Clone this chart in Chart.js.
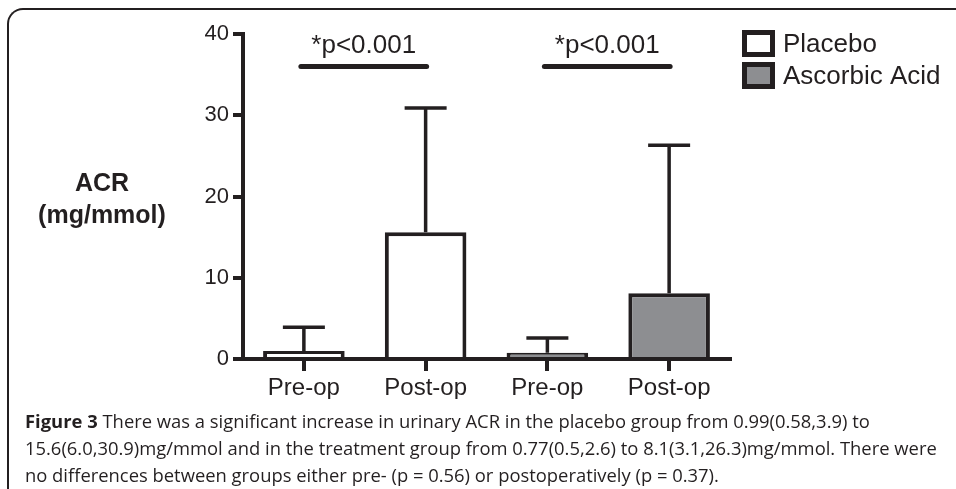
<!DOCTYPE html>
<html lang="en">
<head>
  <meta charset="UTF-8">
  <title>Figure 3 - urinary ACR</title>
  <script src="https://cdn.jsdelivr.net/npm/chart.js@4.4.0/dist/chart.umd.min.js"></script>
  <style>
    html, body { margin: 0; padding: 0; background: #fff; }
    #wrap { position: relative; width: 956px; height: 489px; overflow: hidden; }
    #frame {
      position: absolute; left: 7px; top: 8px; width: 980px; height: 520px;
      border-left: 2px solid #231f20; border-top: 2px solid #231f20;
      border-top-left-radius: 16px;
    }
    #chart-box { position: absolute; left: 0; top: 0; width: 956px; height: 489px; }
    #caption {
      position: absolute; left: 25px; top: 407px;
      font-family: "Open Sans", sans-serif; font-size: 18.4px; line-height: 27px;
      color: #231f20; white-space: nowrap;
    }
    #caption b { font-weight: 700; }
  </style>
</head>
<body>
  <div id="wrap">
    <div id="frame"></div>
    <div id="chart-box"><canvas id="chart"></canvas></div>
    <div id="caption">
      <div><b>Figure 3</b> There was a significant increase in urinary ACR in the placebo group from 0.99(0.58,3.9) to</div>
      <div>15.6(6.0,30.9)mg/mmol and in the treatment group from 0.77(0.5,2.6) to 8.1(3.1,26.3)mg/mmol. There were</div>
      <div>no differences between groups either pre- (p = 0.56) or postoperatively (p = 0.37).</div>
    </div>
  </div>
  <script>
    // data (median and upper whisker)
    const categories = ['Pre-op', 'Post-op', 'Pre-op', 'Post-op'];
    const placeboMedian = [0.99, 15.6, null, null];
    const ascorbicMedian = [null, null, 0.77, 8.1];
    const placeboUpper = [3.9, 30.9, null, null];
    const ascorbicUpper = [null, null, 2.6, 26.3];
    const yTicks = [0, 10, 20, 30, 40];
    const sigPairs = [[0, 1], [2, 3]];
    const sigLevel = 36;
    const sigLabel = '*p<0.001';
    const yTitle = ['ACR', '(mg/mmol)'];

    const ink = '#231f20';
    const font = '"Liberation Sans", Arial, sans-serif';

    const errorBars = {
      id: 'errorBars',
      afterDatasetsDraw(chart) {
        const ctx = chart.ctx;
        const y = chart.scales.y;
        ctx.save();
        ctx.strokeStyle = ink;
        ctx.lineWidth = 3.5;
        chart.data.datasets.forEach((ds, di) => {
          const meta = chart.getDatasetMeta(di);
          ds.upper.forEach((u, i) => {
            if (u == null) return;
            const bar = meta.data[i];
            const top = y.getPixelForValue(u);
            ctx.beginPath();
            ctx.moveTo(bar.x, bar.y);
            ctx.lineTo(bar.x, top);
            ctx.moveTo(bar.x - 21, top);
            ctx.lineTo(bar.x + 21, top);
            ctx.stroke();
          });
        });
        ctx.restore();
      }
    };

    const extras = {
      id: 'extras',
      afterDraw(chart) {
        const ctx = chart.ctx;
        const x = chart.scales.x;
        const y = chart.scales.y;
        ctx.save();
        ctx.fillStyle = ink;
        ctx.strokeStyle = ink;

        // significance brackets
        sigPairs.forEach(([a, b]) => {
          const x1 = x.getPixelForValue(a) - 3;
          const x2 = x.getPixelForValue(b) + 1;
          const yy = y.getPixelForValue(sigLevel);
          ctx.lineWidth = 5;
          ctx.lineCap = 'round';
          ctx.beginPath();
          ctx.moveTo(x1, yy);
          ctx.lineTo(x2, yy);
          ctx.stroke();
          ctx.font = '26px ' + font;
          ctx.textAlign = 'center';
          ctx.textBaseline = 'alphabetic';
          ctx.fillText(sigLabel, (x1 + x2) / 2, yy - 14);
        });

        // horizontal y title
        ctx.font = 'bold 25px ' + font;
        ctx.textAlign = 'center';
        ctx.textBaseline = 'middle';
        ctx.fillText(yTitle[0], 102, 184);
        ctx.fillText(yTitle[1], 102, 216);

        // legend
        ctx.lineCap = 'butt';
        chart.data.datasets.forEach((ds, i) => {
          const top = 32.5 + i * 32;
          ctx.fillStyle = ds.backgroundColor;
          ctx.fillRect(744.5, top, 28, 22);
          ctx.lineWidth = 5;
          ctx.strokeStyle = ink;
          ctx.strokeRect(744.5, top, 28, 22);
          ctx.fillStyle = ink;
          ctx.font = '26px ' + font;
          ctx.textAlign = 'left';
          ctx.textBaseline = 'middle';
          ctx.fillText(ds.label, 783, top + 12);
        });
        ctx.restore();
      }
    };

    new Chart(document.getElementById('chart'), {
      type: 'bar',
      data: {
        labels: categories,
        datasets: [
          {
            label: 'Placebo',
            data: placeboMedian,
            upper: placeboUpper,
            backgroundColor: '#ffffff',
            borderColor: ink,
            borderWidth: 4
          },
          {
            label: 'Ascorbic Acid',
            data: ascorbicMedian,
            upper: ascorbicUpper,
            backgroundColor: '#8d8e91',
            borderColor: ink,
            borderWidth: 4
          }
        ]
      },
      options: {
        responsive: true,
        maintainAspectRatio: false,
        animation: false,
        skipNull: true,
        categoryPercentage: 1,
        barPercentage: 0.67,
        layout: { padding: { left: 0, top: 34, right: 226, bottom: 90 } },
        plugins: {
          legend: { display: false },
          tooltip: { enabled: false }
        },
        scales: {
          x: {
            afterFit: s => { s.height = 40; },
            border: { display: true, width: 4, color: ink },
            grid: { offset: false, drawOnChartArea: false, drawTicks: true, tickLength: 12, lineWidth: 4, color: ink },
            ticks: { color: ink, padding: 3, font: { family: font, size: 24 } }
          },
          y: {
            min: yTicks[0],
            max: yTicks[yTicks.length - 1],
            afterFit: s => { s.width = 243; },
            afterBuildTicks: s => { s.ticks = yTicks.map(v => ({ value: v })); },
            border: { display: true, width: 4, color: ink },
            grid: { drawOnChartArea: false, drawTicks: true, tickLength: 10, lineWidth: 4, color: ink },
            ticks: { color: ink, padding: 4, font: { family: font, size: 22 } }
          }
        }
      },
      plugins: [errorBars, extras]
    });
  </script>
</body>
</html>
